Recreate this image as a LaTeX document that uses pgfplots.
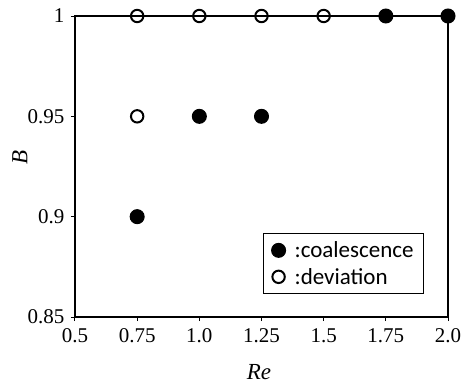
\documentclass[border=0pt]{standalone}
\usepackage{fontspec}
\setmainfont{Carlito}
\newfontfamily\serif{Liberation Serif}
\usepackage{pgfplots}
\pgfplotsset{compat=1.18}
\begin{document}
\begin{tikzpicture}
\begin{axis}[
  name=ax,
  scale only axis,
  width=373pt, height=301pt,
  xmin=0.5, xmax=2.0, ymin=0.85, ymax=1,
  xtick={0.5,0.75,1.0,1.25,1.5,1.75,2.0},
  xticklabels={0.5,0.75,1.0,1.25,1.5,1.75,2.0},
  ytick={0.85,0.9,0.95,1},
  yticklabels={0.85,0.9,0.95,1},
  xtick pos=bottom, ytick pos=left,
  tick align=outside,
  major tick length=4pt,
  every tick/.style={black, line width=1pt},
  axis line style={line width=1.6pt},
  tick label style={font=\serif\fontsize{21}{23}\selectfont},
  xticklabel style={yshift=-4pt},
  yticklabel style={xshift=-3pt},
  xlabel={\serif\itshape Re}, ylabel={\serif\itshape B},
  label style={font=\fontsize{23}{26}\selectfont},
  xlabel style={at={(axis description cs:0.493,0)}, anchor=center, yshift=-55pt},
  ylabel style={at={(axis description cs:0,0.53)}, anchor=center, yshift=55pt},
  clip=false,
  legend style={at={(rel axis cs:0.504,0.279)}, anchor=north west,
    draw=black, line width=1.2pt, font=\fontsize{23}{26}\selectfont,
    inner xsep=8pt, inner ysep=6pt, row sep=5pt},
  legend cell align=left,
]
\addplot[only marks, mark=*, mark size=7pt, mark options={fill=black, draw=black}, line width=1pt]
  coordinates {(0.75,0.9) (1.0,0.95) (1.25,0.95) (1.75,1) (2.0,1)};
\addlegendentry{\hspace*{7pt}:coalescence}
\addplot[only marks, mark=o, mark size=6.2pt, mark options={fill=white, draw=black, line width=2pt}]
  coordinates {(0.75,1) (1.0,1) (1.25,1) (1.5,1) (0.75,0.95)};
\addlegendentry{\hspace*{7pt}:deviation}
\end{axis}
\pgfresetboundingbox
\path[use as bounding box] ([shift={(-75pt,-66pt)}]ax.south west) rectangle ([shift={(13pt,16pt)}]ax.north east);
\end{tikzpicture}
\end{document}
